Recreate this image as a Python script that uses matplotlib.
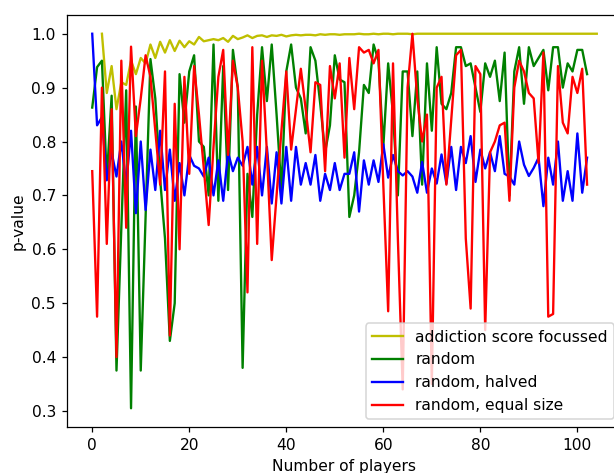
import numpy as np
import matplotlib
matplotlib.use('agg')
import matplotlib.pyplot as plt

# p-values
x_focus = np.arange(2, 105)
p_focus = [1.0, 0.89, 0.94, 0.86, 0.91, 0.905, 0.95, 0.925, 0.955, 0.945,
           0.98, 0.955, 0.985, 0.965, 0.988, 0.968, 0.987, 0.975, 0.986, 0.98,
           0.994, 0.986, 0.988, 0.99, 0.988, 0.992, 0.985, 0.996, 0.99, 0.993,
           0.997, 0.992, 0.996, 0.997, 0.994, 0.997, 0.996, 0.998, 0.995, 0.997,
           0.998, 0.997, 0.998, 0.998, 0.997, 0.999, 0.998, 0.999, 0.999, 0.998,
           0.999, 0.999, 0.999, 1.0, 0.999, 0.999, 1.0, 0.999, 1.0, 1.0,
           0.999, 1.0, 1.0, 1.0, 0.999, 1.0, 1.0, 1.0, 1.0, 1.0,
           1.0, 1.0, 1.0, 1.0, 1.0, 1.0, 1.0, 1.0, 1.0, 1.0,
           1.0, 1.0, 1.0, 1.0, 1.0, 1.0, 1.0, 1.0, 1.0, 1.0,
           1.0, 1.0, 1.0, 1.0, 1.0, 1.0, 1.0, 1.0, 1.0, 1.0,
           1.0, 1.0, 1.0]

x_rand = np.arange(0, 103)
p_random = [0.863, 0.938, 0.95, 0.73, 0.885, 0.375, 0.64, 0.895, 0.305, 0.865,
            0.375, 0.66, 0.953, 0.88, 0.73, 0.62, 0.43, 0.50, 0.925, 0.835,
            0.93, 0.96, 0.80, 0.79, 0.70, 0.98, 0.69, 0.94, 0.71, 0.97,
            0.90, 0.38, 0.74, 0.66, 0.85, 0.975, 0.875, 0.98, 0.85, 0.71,
            0.93, 0.98, 0.90, 0.88, 0.815, 0.975, 0.95, 0.87, 0.78, 0.83,
            0.96, 0.915, 0.91, 0.66, 0.70, 0.78, 0.905, 0.89, 0.98, 0.95,
            0.79, 0.945, 0.85, 0.70, 0.93, 0.93, 0.81, 0.93, 0.72, 0.945,
            0.82, 0.975, 0.87, 0.86, 0.89, 0.975, 0.975, 0.94, 0.945, 0.90,
            0.855, 0.945, 0.92, 0.95, 0.875, 0.965, 0.70, 0.93, 0.975, 0.87,
            0.975, 0.94, 0.955, 0.97, 0.895, 0.975, 0.975, 0.90, 0.945, 0.93,
            0.97, 0.97, 0.925]

p_halved = [1.0, 0.83, 0.845, 0.728, 0.78, 0.735, 0.80, 0.72, 0.82, 0.667,
            0.80, 0.673, 0.785, 0.71, 0.82, 0.71, 0.785, 0.69, 0.76, 0.70,
            0.775, 0.755, 0.75, 0.735, 0.77, 0.70, 0.765, 0.69, 0.78, 0.745,
            0.77, 0.755, 0.79, 0.72, 0.79, 0.70, 0.79, 0.685, 0.78, 0.685,
            0.79, 0.69, 0.79, 0.72, 0.76, 0.72, 0.775, 0.69, 0.74, 0.71,
            0.76, 0.71, 0.74, 0.74, 0.78, 0.67, 0.765, 0.72, 0.765, 0.725,
            0.795, 0.733, 0.775, 0.745, 0.737, 0.745, 0.735, 0.705, 0.762, 0.705,
            0.75, 0.722, 0.776, 0.722, 0.79, 0.71, 0.79, 0.76, 0.81, 0.725,
            0.785, 0.75, 0.78, 0.745, 0.81, 0.74, 0.735, 0.72, 0.80, 0.757,
            0.736, 0.751, 0.77, 0.68, 0.77, 0.72, 0.80, 0.69, 0.745, 0.69,
            0.815, 0.705, 0.77]

p_equal = [0.745, 0.475, 0.90, 0.61, 0.86, 0.40, 0.95, 0.64, 0.976, 0.81,
           0.88, 0.96, 0.92, 0.82, 0.72, 0.93, 0.44, 0.87, 0.60, 0.92,
           0.74, 0.94, 0.85, 0.75, 0.645, 0.79, 0.92, 0.97, 0.775, 0.95,
           0.90, 0.80, 0.52, 0.975, 0.61, 0.95, 0.78, 0.58, 0.70, 0.82,
           0.93, 0.785, 0.86, 0.935, 0.86, 0.78, 0.91, 0.905, 0.745, 0.94,
           0.88, 0.945, 0.77, 0.955, 0.86, 0.975, 0.965, 0.97, 0.945, 0.97,
           0.72, 0.485, 0.945, 0.62, 0.34, 0.90, 1.0, 0.88, 0.80, 0.85,
           0.35, 0.90, 0.92, 0.72, 0.84, 0.96, 0.97, 0.62, 0.49, 0.94,
           0.925, 0.45, 0.78, 0.80, 0.83, 0.835, 0.69, 0.90, 0.95, 0.93,
           0.89, 0.88, 0.76, 0.965, 0.475, 0.48, 0.94, 0.835, 0.815, 0.92,
           0.89, 0.935, 0.72]

dpi = 112
fig = plt.figure(figsize=(614 / dpi, 473 / dpi), dpi=dpi)
ax = fig.add_axes([67 / 614, 46 / 473, 555 / 614, 412 / 473])

ax.plot(x_focus, p_focus, color='y', label='addiction score focussed')
ax.plot(x_rand, p_random, color='g', label='random')
ax.plot(x_rand, p_halved, color='b', label='random, halved')
ax.plot(x_rand, p_equal, color='r', label='random, equal size')

ax.set_xlabel('Number of players')
ax.set_ylabel('p-value')
ax.legend(loc='lower right')

fig.savefig('out.png', dpi=dpi)
